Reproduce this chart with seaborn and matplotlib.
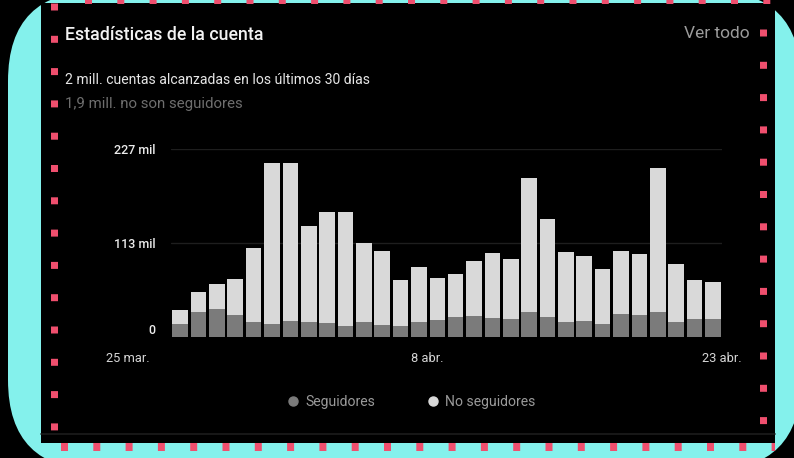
import numpy as np
import pandas as pd
import seaborn as sns
import matplotlib.pyplot as plt
from matplotlib.patches import FancyBboxPatch, Rectangle
from matplotlib.lines import Line2D

# datos (miles de cuentas alcanzadas por dia)
dias = [f"{d} mar." for d in range(25, 32)] + [f"{d} abr." for d in range(1, 24)]
seguidores = [15.7, 30.5, 33.8, 26.2, 17.7, 15.7, 19.3, 18.5, 17.3, 13.6,
              18.5, 14.5, 13.6, 18.5, 20.5, 23.8, 25.7, 22.6, 22.1, 29.8,
              24.5, 18.1, 19.7, 15.7, 27.4, 26.6, 30.5, 18.5, 21.7, 21.7]
no_seguidores = [16.9, 23.5, 30.6, 43.5, 89.3, 194.0, 190.4, 115.9, 133.2, 136.9,
                 95.4, 89.7, 55.6, 66.0, 51.1, 52.3, 65.7, 78.8, 72.1, 162.5,
                 118.0, 84.9, 78.5, 66.8, 76.4, 73.2, 173.9, 69.3, 46.8, 45.1]
y_ticks = [0, 113, 227]
y_labels = ["0", "113 mil", "227 mil"]
x_labels = ["25 mar.", "8 abr.", "23 abr."]

sns.set_theme(style="dark")
plt.rcParams['font.family'] = ['Roboto', 'DejaVu Sans']
plt.rcParams['lines.scale_dashes'] = False

df = pd.DataFrame({"dia": dias, "seguidores": seguidores, "no_seguidores": no_seguidores})
df["total"] = df["seguidores"] + df["no_seguidores"]

W, H = 794, 458
fig = plt.figure(figsize=(W / 100, H / 100), dpi=100)
fig.patch.set_facecolor("black")

# fondo decorativo en pixeles
bg = fig.add_axes([0, 0, 1, 1])
bg.set_xlim(0, W)
bg.set_ylim(H, 0)
bg.axis("off")
cyan = "#84F1EC"
pink = "#EF4F6E"
bg.add_patch(FancyBboxPatch((8, -9), 793, 479, boxstyle="round,pad=0,rounding_size=90",
                            facecolor=cyan, edgecolor="none"))
bg.add_patch(Rectangle((41, 3), 734, 440, facecolor="black", edgecolor="none"))
bg.plot([41, 775], [434, 434], color="#1c1c1c", lw=1.2)
dash = (7 * 0.72, 25.3 * 0.72)
bg.add_line(Line2D([53.5, 53.5], [3, 443], color=pink, lw=7 * 0.72, dashes=dash))
bg.add_line(Line2D([763, 763], [29, 443], color=pink, lw=7 * 0.72, dashes=dash))
bg.add_line(Line2D([85, 775], [0.5, 0.5], color=pink, lw=6 * 0.72, dashes=dash))
bg.add_line(Line2D([61, 775], [447, 447], color=pink, lw=8 * 0.72, dashes=dash))

bg.text(65, 35, "Estadísticas de la cuenta", color="#f2f2f2", fontsize=12.8,
        fontweight="medium", va="center", ha="left")
bg.text(750, 33, "Ver todo", color="#9c9c9c", fontsize=12.5, va="center", ha="right")
bg.text(65, 80, "2 mill. cuentas alcanzadas en los últimos 30 días", color="#e6e6e6",
        fontsize=10.1, va="center", ha="left")
bg.text(65, 104, "1,9 mill. no son seguidores", color="#6e6e6e", fontsize=10.8,
        va="center", ha="left")
for txt, xp in zip(x_labels, [128, 427, 722]):
    bg.text(xp, 358, txt, color="#d6d6d6", fontsize=9.3, va="center", ha="center")

# grafico de barras apiladas
ax = fig.add_axes([171 / W, 1 - 337 / H, (722 - 171) / W, 188 / H])
ax.set_facecolor("none")
sns.barplot(data=df, x="dia", y="total", color="#d9d9d9", saturation=1, width=0.85,
            linewidth=0, ax=ax)
sns.barplot(data=df, x="dia", y="seguidores", color="#7b7b7b", saturation=1, width=0.85,
            linewidth=0, ax=ax)
for t in y_ticks[1:]:
    ax.axhline(t, color="#1e1e1e", lw=1, zorder=0)
ax.set_xlim(-0.5, len(dias) - 0.5)
ax.set_ylim(0, 227)
ax.set_xticks([])
ax.set_yticks(y_ticks)
ax.set_yticklabels(y_labels, color="#ececec", fontsize=9, fontweight="medium")
ax.tick_params(axis="y", length=0, pad=11)
ax.get_yticklabels()[0].set_va("bottom")
ax.set_xlabel("")
ax.set_ylabel("")
ax.grid(False)
for s in ax.spines.values():
    s.set_visible(False)

handles = [Line2D([], [], marker="o", ls="", markersize=6.5, color="#7b7b7b"),
           Line2D([], [], marker="o", ls="", markersize=6.5, color="#d9d9d9")]
fig.legend(handles, ["Seguidores", "No seguidores"], loc="center",
           bbox_to_anchor=(410 / W, 1 - 402 / H), ncol=2, frameon=False,
           fontsize=10.1, labelcolor="#9a9a9a", handletextpad=0.25, handlelength=1.2,
           columnspacing=3.5)

fig.savefig("out.png", dpi=100, facecolor="black")
